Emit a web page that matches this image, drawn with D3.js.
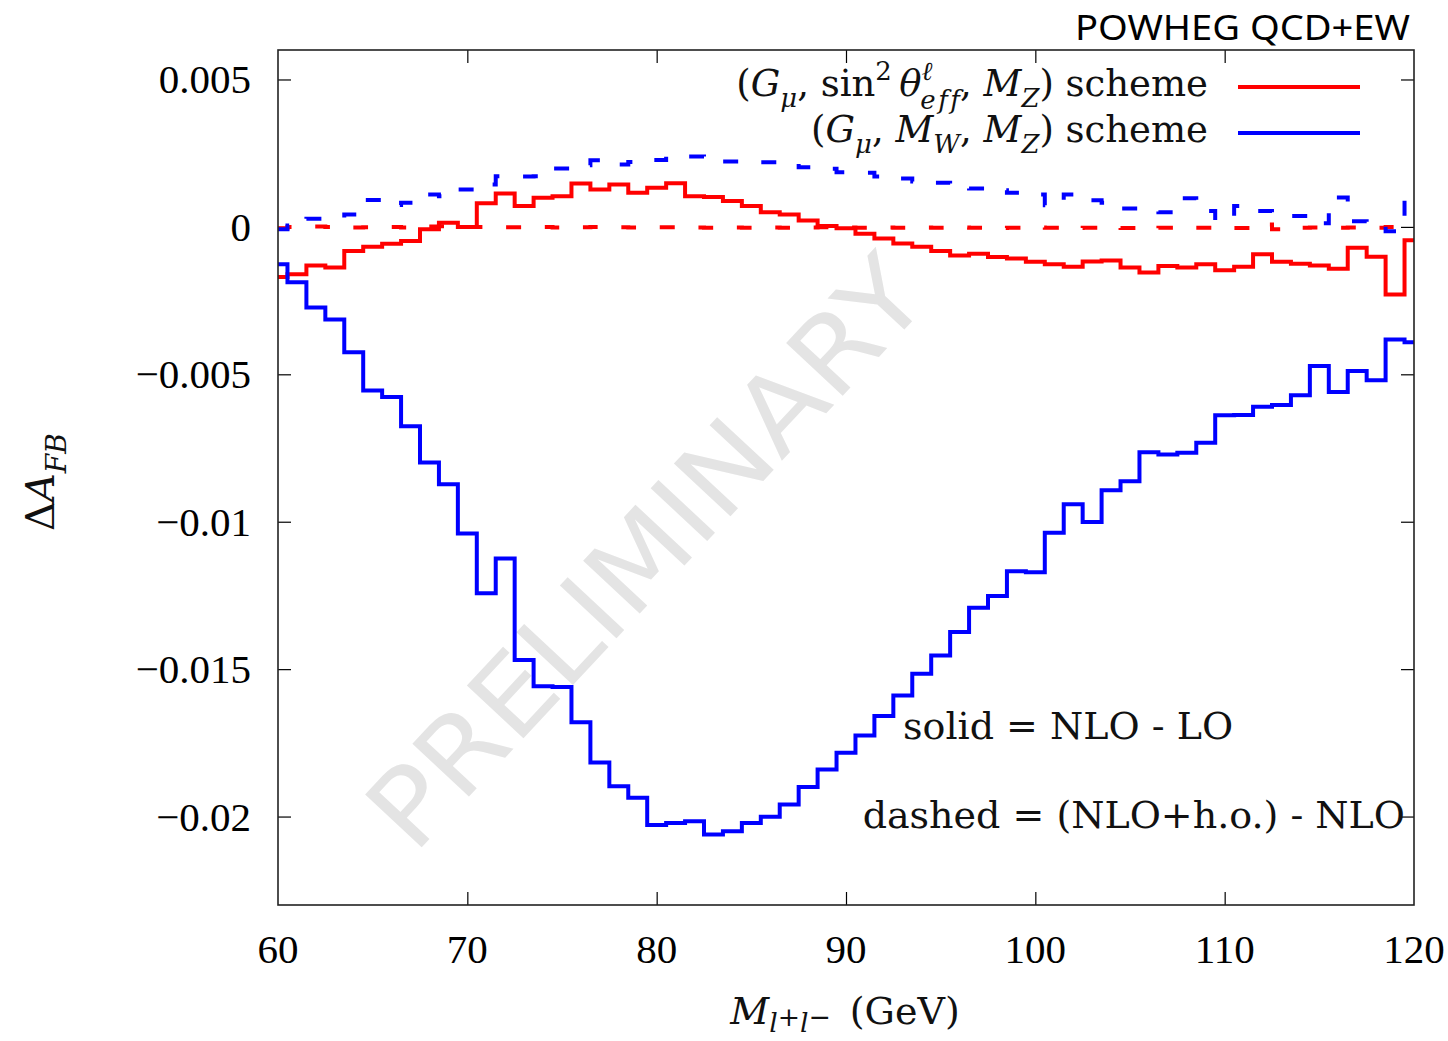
<!DOCTYPE html>
<html>
<head>
<meta charset="utf-8">
<script src="https://cdn.jsdelivr.net/npm/d3@7"></script>
<style>
  body { margin: 0; background: #fff; }
  svg { display: block; }
</style>
</head>
<body>
<svg id="chart" width="1448" height="1041"></svg>
<script>
// bin centres, 1 GeV wide (drawn as histeps)
var mass = d3.range(60, 121);

// (G_mu, sin2theta_eff, M_Z) scheme
var redNLO = [
  -0.00170, -0.00161, -0.00131, -0.00138, -0.00082, -0.00067, -0.00057, -0.00048, -0.00008, 0.00014,
   0.00000,  0.00080,  0.00113,  0.00071,  0.00099,  0.00104,  0.00147,  0.00127,  0.00144, 0.00116,
   0.00133,  0.00148,  0.00104,  0.00101,  0.00088,  0.00071,  0.00050,  0.00042,  0.00022, 0.00003,
  -0.00005, -0.00023, -0.00039, -0.00056, -0.00067, -0.00082, -0.00097, -0.00091, -0.00102, -0.00107,
  -0.00118, -0.00127, -0.00135, -0.00117, -0.00114, -0.00138, -0.00155, -0.00133, -0.00138, -0.00127,
  -0.00147, -0.00135, -0.00093, -0.00118, -0.00125, -0.00131, -0.00142, -0.00071, -0.00101, -0.00229,
  -0.00045
];
var redHO = [
  -0.00005, 0.00000, 0.00001, 0.00000, -0.00002, -0.00001, 0.00000, -0.00002, 0.00001, 0.00002,
   0.00000, 0.00000, -0.00001, -0.00001, 0.00000, -0.00002, -0.00001, 0.00000, -0.00001, -0.00002,
  -0.00001, -0.00001, -0.00002, -0.00003, -0.00002, -0.00003, -0.00002, -0.00003, -0.00002, -0.00001,
  -0.00002, -0.00003, -0.00002, -0.00003, -0.00002, -0.00003, -0.00002, -0.00003, -0.00004, -0.00003,
  -0.00002, -0.00003, -0.00004, -0.00003, -0.00002, -0.00004, -0.00006, -0.00003, -0.00002, -0.00003,
  -0.00002, -0.00004, 0.00008, -0.00008, -0.00003, -0.00002, -0.00003, -0.00002, -0.00003, 0.00000,
  -0.00002
];

// (G_mu, M_W, M_Z) scheme
var blueNLO = [
  -0.00127, -0.00188, -0.00273, -0.00314, -0.00425, -0.00555, -0.00577, -0.00676, -0.00799, -0.00873,
  -0.01040, -0.01243, -0.01125, -0.01469, -0.01558, -0.01561, -0.01680, -0.01817, -0.01897, -0.01936,
  -0.02029, -0.02022, -0.02016, -0.02061, -0.02050, -0.02022, -0.02001, -0.01959, -0.01900, -0.01840,
  -0.01784, -0.01725, -0.01659, -0.01589, -0.01516, -0.01454, -0.01374, -0.01292, -0.01252, -0.01168,
  -0.01171, -0.01037, -0.00941, -0.01001, -0.00893, -0.00863, -0.00764, -0.00772, -0.00766, -0.00732,
  -0.00639, -0.00638, -0.00610, -0.00604, -0.00571, -0.00472, -0.00560, -0.00489, -0.00520, -0.00382,
  -0.00391
];
var blueHO = [
  -0.00008, 0.00005, 0.00028, 0.00031, 0.00042, 0.00091, 0.00074, 0.00082, 0.00110, 0.00104,
   0.00127, 0.00144, 0.00172, 0.00171, 0.00172, 0.00198, 0.00209, 0.00226, 0.00212, 0.00220,
   0.00227, 0.00240, 0.00239, 0.00237, 0.00222, 0.00222, 0.00219, 0.00215, 0.00202, 0.00197,
   0.00185, 0.00184, 0.00171, 0.00164, 0.00154, 0.00150, 0.00137, 0.00130, 0.00124, 0.00116,
   0.00110, 0.00073, 0.00110, 0.00090, 0.00082, 0.00062, 0.00059, 0.00050, 0.00097, 0.00054,
   0.00022, 0.00071, 0.00054, 0.00039, 0.00037, 0.00012, 0.00100, 0.00019, 0.00005, -0.00015,
   0.00091
];

var xTicks = [60, 70, 80, 90, 100, 110, 120];
var yTicks = [0.005, 0, -0.005, -0.01, -0.015, -0.02];
var yTickLabels = ["0.005", "0", "\u22120.005", "\u22120.01", "\u22120.015", "\u22120.02"];

var svg = d3.select("#chart");
var pLeft = 278, pRight = 1414, pTop = 50, pBottom = 905;
var serif = "'Liberation Serif', 'Times New Roman', serif";
var wideSerif = "'DejaVu Serif', serif";

var x = d3.scaleLinear().domain([60, 120]).range([pLeft, pRight]);
var y = d3.scaleLinear().domain([-0.023, 0.006]).range([pBottom, pTop]);

// watermark first, under everything
svg.append("text")
  .attr("transform", "translate(652,558) rotate(-47)")
  .attr("text-anchor", "middle")
  .attr("dominant-baseline", "middle")
  .attr("font-family", "'DejaVu Sans', sans-serif")
  .attr("font-size", 106)
  .attr("fill", "#e4e4e4")
  .attr("textLength", 760)
  .attr("lengthAdjust", "spacingAndGlyphs")
  .text("PRELIMINARY");

// axes: ticks inward, mirrored
var tickLen = 13;
var axisStyle = function(g){
  g.select(".domain").remove();
  g.selectAll(".tick line").attr("stroke", "#000").attr("stroke-width", 1.2);
  g.selectAll(".tick text").remove();
};
svg.append("g").attr("transform", "translate(0," + pBottom + ")")
  .call(d3.axisBottom(x).tickValues(xTicks.slice(1, -1)).tickSizeInner(-tickLen).tickSizeOuter(0))
  .call(axisStyle);
svg.append("g").attr("transform", "translate(0," + pTop + ")")
  .call(d3.axisTop(x).tickValues(xTicks.slice(1, -1)).tickSizeInner(-tickLen).tickSizeOuter(0))
  .call(axisStyle);
svg.append("g").attr("transform", "translate(" + pLeft + ",0)")
  .call(d3.axisLeft(y).tickValues(yTicks).tickSizeInner(-tickLen).tickSizeOuter(0))
  .call(axisStyle);
svg.append("g").attr("transform", "translate(" + pRight + ",0)")
  .call(d3.axisRight(y).tickValues(yTicks).tickSizeInner(-tickLen).tickSizeOuter(0))
  .call(axisStyle);

svg.selectAll(".xlab").data(xTicks).enter().append("text")
  .attr("x", function(d){ return x(d); })
  .attr("y", 963)
  .attr("text-anchor", "middle")
  .attr("font-family", serif).attr("font-size", 41)
  .text(function(d){ return d; });

svg.selectAll(".ylab").data(yTicks).enter().append("text")
  .attr("x", 251)
  .attr("y", function(d){ return y(d) + 14; })
  .attr("text-anchor", "end")
  .attr("font-family", serif).attr("font-size", 41)
  .text(function(d, i){ return yTickLabels[i]; });

// histeps: edges at bin midpoints, clamped to the range
var edges = mass.map(function(m, i){ return i === 0 ? m : m - 0.5; });
edges.push(120);
var stepLine = d3.line()
  .x(function(d){ return x(d[0]); })
  .y(function(d){ return y(d[1]); })
  .curve(d3.curveStepAfter);
var histeps = function(vals){
  var pts = edges.map(function(e, i){ return [e, vals[Math.min(i, vals.length - 1)]]; });
  return stepLine(pts);
};

svg.append("clipPath").attr("id", "plotclip")
  .append("rect").attr("x", pLeft).attr("y", pTop).attr("width", pRight - pLeft).attr("height", pBottom - pTop);
var plot = svg.append("g").attr("clip-path", "url(#plotclip)");

var series = [
  {vals: redHO, color: "#ff0000", dash: "15,24"},
  {vals: blueHO, color: "#0000ff", dash: "15,24"},
  {vals: redNLO, color: "#ff0000", dash: null},
  {vals: blueNLO, color: "#0000ff", dash: null}
];
series.forEach(function(s){
  plot.append("path")
    .attr("d", histeps(s.vals))
    .attr("fill", "none")
    .attr("stroke", s.color)
    .attr("stroke-width", 4)
    .attr("stroke-dasharray", s.dash);
});

// frame
svg.append("rect")
  .attr("x", pLeft).attr("y", pTop).attr("width", pRight - pLeft).attr("height", pBottom - pTop)
  .attr("fill", "none").attr("stroke", "#222").attr("stroke-width", 1.6);

// math-ish text built from tspans
var addParts = function(text, parts, size){
  var cur = 0;
  parts.forEach(function(p){
    var off = p.s === "sub" ? size * 0.3 : p.s === "sup" ? -size * 0.42 : 0;
    if (p.off !== undefined) off = p.off;
    var ts = text.append("tspan").text(p.t).attr("dy", off - cur);
    if (p.dx) ts.attr("dx", p.dx);
    if (p.i) ts.attr("font-style", "italic");
    if (p.s) ts.attr("font-size", size * 0.7);
    cur = off;
  });
};
var mathText = function(xx, yy, anchor, size, parts, family){
  var t = svg.append("text")
    .attr("x", xx).attr("y", yy)
    .attr("text-anchor", anchor)
    .attr("font-family", family || wideSerif).attr("font-size", size)
    .attr("font-weight", 300)
    .attr("fill", "#111");
  addParts(t, parts, size);
  return t;
};

// legend
mathText(1208, 96, "end", 37, [
  {t: "("}, {t: "G", i: 1}, {t: "\u03bc", i: 1, s: "sub"}, {t: ", sin"}, {t: "2", s: "sup"},
  {t: "\u2009"}, {t: "\u03b8", i: 1}, {t: "\u2113", i: 1, s: "sup"},
  {t: "e\u200af\u200af", i: 1, s: "sub", dx: -12, off: 13}, {t: ", "}, {t: "M", i: 1}, {t: "Z", i: 1, s: "sub"},
  {t: ") scheme"}
]);
mathText(1208, 142, "end", 37, [
  {t: "("}, {t: "G", i: 1}, {t: "\u03bc", i: 1, s: "sub"}, {t: ", "}, {t: "M", i: 1},
  {t: "W", i: 1, s: "sub"}, {t: ", "}, {t: "M", i: 1}, {t: "Z", i: 1, s: "sub"}, {t: ") scheme"}
]);
svg.append("line").attr("x1", 1238).attr("x2", 1360).attr("y1", 87).attr("y2", 87)
  .attr("stroke", "#ff0000").attr("stroke-width", 4);
svg.append("line").attr("x1", 1238).attr("x2", 1360).attr("y1", 133).attr("y2", 133)
  .attr("stroke", "#0000ff").attr("stroke-width", 4);

// notes
mathText(903, 739, "start", 38, [{t: "solid = NLO - LO"}]);
mathText(1405, 828, "end", 38, [{t: "dashed = (NLO+h.o.) - NLO"}]);

// axis titles
mathText(845, 1024, "middle", 38, [
  {t: "M", i: 1}, {t: "l", i: 1, s: "sub", off: 8}, {t: "+", s: "sub", off: 2}, {t: "l", i: 1, s: "sub", off: 8},
  {t: "\u2212", s: "sub", off: 2}, {t: "\u2002(GeV)"}
]);
mathText(0, 0, "middle", 40, [
  {t: "\u0394"}, {t: "A", i: 1}, {t: "FB", i: 1, s: "sub"}
]).attr("transform", "translate(54,482) rotate(-90)");

svg.append("text")
  .attr("x", 1410).attr("y", 40)
  .attr("text-anchor", "end")
  .attr("font-family", "'Noto Sans', sans-serif")
  .attr("font-size", 35)
  .attr("textLength", 335)
  .attr("lengthAdjust", "spacingAndGlyphs")
  .text("POWHEG QCD+EW");
</script>
</body>
</html>
